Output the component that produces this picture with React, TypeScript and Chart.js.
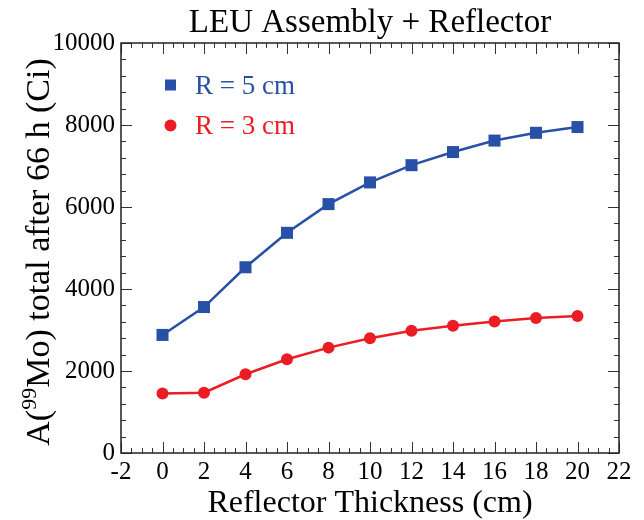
import React, { useEffect, useRef } from "react";
import { Chart, registerables } from "chart.js";

Chart.register(...registerables);

const thickness = [0, 2, 4, 6, 8, 10, 12, 14, 16, 18, 20];
const r5Values = [2880, 3560, 4530, 5370, 6070, 6600, 7020, 7340, 7620, 7810, 7950];
const r3Values = [1450, 1470, 1920, 2285, 2570, 2800, 2980, 3105, 3210, 3295, 3340];
const seriesLabels = ["R = 5 cm", "R = 3 cm"];
const chartTitle = "LEU Assembly + Reflector";
const xTitle = "Reflector Thickness (cm)";
const yTitleParts = ["A(", "99", "Mo) total after 66 h (Ci)"];

const BLUE = "#2750a6";
const RED = "#ec1c24";
const FONT = "'Liberation Serif', 'Times New Roman', serif";

const decorPlugin = {
  id: "decor",
  afterDraw(chart: any) {
    const { ctx, chartArea: a, scales } = chart;
    const xs = scales.x;
    const ys = scales.y;
    ctx.save();
    // inward ticks on all four sides
    ctx.strokeStyle = "#333";
    ctx.lineWidth = 1;
    ctx.beginPath();
    for (let v = -2; v <= 22 + 1e-9; v += 0.5) {
      const px = Math.round(xs.getPixelForValue(v)) + 0.5;
      const major = Math.abs(v / 2 - Math.round(v / 2)) < 1e-6;
      const len = major ? 11 : 5;
      ctx.moveTo(px, a.bottom);
      ctx.lineTo(px, a.bottom - len);
      ctx.moveTo(px, a.top);
      ctx.lineTo(px, a.top + len);
    }
    for (let v = 0; v <= 10000 + 1e-6; v += 400) {
      const py = Math.round(ys.getPixelForValue(v)) + 0.5;
      const major = v % 2000 === 0;
      const len = major ? 11 : 5;
      ctx.moveTo(a.left, py);
      ctx.lineTo(a.left + len, py);
      ctx.moveTo(a.right, py);
      ctx.lineTo(a.right - len, py);
    }
    ctx.stroke();
    // frame
    ctx.strokeStyle = "#222";
    ctx.lineWidth = 1.5;
    ctx.strokeRect(a.left, a.top, a.right - a.left, a.bottom - a.top);

    // title
    ctx.fillStyle = "#000";
    ctx.font = `33px ${FONT}`;
    ctx.textAlign = "center";
    ctx.textBaseline = "alphabetic";
    ctx.fillText(chartTitle, (a.left + a.right) / 2, 24);

    // y-axis title with superscript
    const big = `34px ${FONT}`;
    const small = `22px ${FONT}`;
    ctx.font = big;
    const w0 = ctx.measureText(yTitleParts[0]).width;
    const w2 = ctx.measureText(yTitleParts[2]).width;
    ctx.font = small;
    const w1 = ctx.measureText(yTitleParts[1]).width;
    const total = w0 + w1 + w2;
    ctx.translate(41, (a.top + a.bottom) / 2 + 4);
    ctx.rotate(-Math.PI / 2);
    ctx.textAlign = "left";
    let x = -total / 2;
    ctx.font = big;
    ctx.fillText(yTitleParts[0], x, 0);
    x += w0;
    ctx.font = small;
    ctx.fillText(yTitleParts[1], x, -13);
    x += w1;
    ctx.font = big;
    ctx.fillText(yTitleParts[2], x, 0);
    ctx.setTransform(1, 0, 0, 1, 0, 0);

    // legend inside plot
    const ds = chart.data.datasets;
    const legendX = 162.5;
    const rows = [77, 117.5];
    ds.forEach((d: any, i: number) => {
      const cy = rows[i];
      ctx.fillStyle = d.borderColor;
      if (d.pointStyle === "rect") {
        ctx.fillRect(legendX - 5.5, cy - 5.5, 11, 11);
      } else {
        ctx.beginPath();
        ctx.arc(legendX, cy, 6, 0, Math.PI * 2);
        ctx.fill();
      }
      ctx.font = `27px ${FONT}`;
      ctx.textAlign = "left";
      ctx.textBaseline = "alphabetic";
      ctx.fillText(d.label, legendX + 24.5, cy + 8.5);
    });
    ctx.restore();
  },
};

export default function App() {
  const ref = useRef<HTMLCanvasElement | null>(null);
  useEffect(() => {
    if (!ref.current) return;
    const chart = new Chart(ref.current, {
      type: "line",
      data: {
        datasets: [
          {
            label: seriesLabels[0],
            data: thickness.map((t, i) => ({ x: t, y: r5Values[i] })),
            borderColor: BLUE,
            backgroundColor: BLUE,
            pointStyle: "rect",
            pointRadius: 8.5,
            pointBorderWidth: 0,
            borderWidth: 2.5,
            tension: 0,
          },
          {
            label: seriesLabels[1],
            data: thickness.map((t, i) => ({ x: t, y: r3Values[i] })),
            borderColor: RED,
            backgroundColor: RED,
            pointStyle: "circle",
            pointRadius: 6,
            pointBorderWidth: 0,
            borderWidth: 2.5,
            tension: 0,
          },
        ],
      },
      plugins: [decorPlugin],
      options: {
        responsive: false,
        animation: false,
        layout: { padding: { top: 35, right: 17, left: 0, bottom: 0 } },
        plugins: {
          legend: { display: false },
          title: { display: false },
          tooltip: { enabled: false },
        },
        scales: {
          x: {
            type: "linear",
            min: -2,
            max: 22,
            grid: { display: false, drawTicks: false },
            border: { display: false },
            ticks: {
              stepSize: 2,
              autoSkip: false,
              maxRotation: 0,
              padding: 4,
              color: "#000",
              font: { family: FONT, size: 25 },
              callback: (v: any) => String(v),
            },
            title: {
              display: true,
              text: xTitle,
              color: "#000",
              font: { family: FONT, size: 32, lineHeight: 1 },
              padding: { top: 0, bottom: 0 },
            },
            afterFit: (s: any) => {
              s.height = 67;
            },
          },
          y: {
            type: "linear",
            min: 0,
            max: 10000,
            grid: { display: false, drawTicks: false },
            border: { display: false },
            ticks: {
              stepSize: 2000,
              padding: 6,
              color: "#000",
              font: { family: FONT, size: 25 },
              callback: (v: any) => String(v),
            },
            afterFit: (s: any) => {
              s.width = 113;
            },
          },
        },
      } as any,
    });
    return () => chart.destroy();
  }, []);
  return (
    <div style={{ width: 628, height: 512 }}>
      <canvas ref={ref} width={628} height={512} style={{ display: "block" }} />
    </div>
  );
}
